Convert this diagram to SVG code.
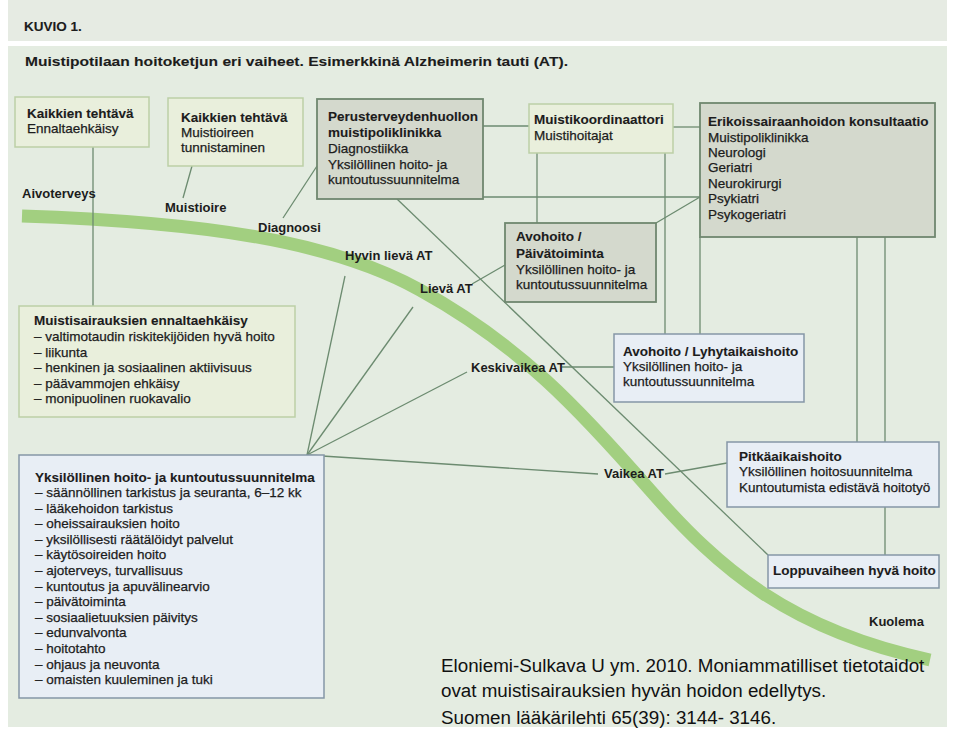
<svg xmlns="http://www.w3.org/2000/svg" width="960" height="732" viewBox="0 0 960 732">
<style>
.t{font-family:"Liberation Sans Narrow","Liberation Sans",Arial,sans-serif;font-size:13.5px;fill:#1c1c1c;stroke:#1c1c1c;stroke-width:0.25}
.b{font-weight:bold;stroke-width:0.1}
.lbl{font-family:"Liberation Sans Narrow","Liberation Sans",Arial,sans-serif;font-size:13px;font-weight:bold;fill:#1c1c1c}
.cap{font-family:"Liberation Sans",Arial,sans-serif;font-size:18.8px;fill:#111}
.g{fill:#e9efdc;stroke:#bccfa6;stroke-width:1.5}
.d{fill:#d4d9cd;stroke:#6f876f;stroke-width:1.8}
.u{fill:#e8eef5;stroke:#8596a6;stroke-width:1.5}
.c{fill:none;stroke:#6c8b70;stroke-width:1.3}
</style>
<rect x="0" y="0" width="960" height="732" fill="#ffffff"/>
<rect x="8" y="0" width="939" height="41" fill="#e6ebe3"/>
<rect x="8" y="46" width="939" height="681" fill="#e4ece1"/>
<text class="t b" x="24" y="31" font-size="14.5">KUVIO 1.</text>
<text class="t b" x="25" y="66" font-size="18" textLength="543" lengthAdjust="spacingAndGlyphs">Muistipotilaan hoitoketjun eri vaiheet. Esimerkkinä Alzheimerin tauti (AT).</text>

<path d="M22,216 C200,222 330,240 420,290 C520,345 580,410 650,490 C720,570 790,630 930,660" fill="none" stroke="#a2cf80" stroke-width="13"/>

<g id="connectors">
<line class="c" x1="93" y1="147" x2="93" y2="306"/>
<line class="c" x1="192" y1="166" x2="183" y2="198"/>
<line class="c" x1="283" y1="218" x2="317" y2="166"/>
<line class="c" x1="397" y1="199" x2="768" y2="555"/>
<line class="c" x1="483" y1="126" x2="529" y2="126"/>
<line class="c" x1="673" y1="127" x2="700" y2="127"/>
<line class="c" x1="483" y1="197" x2="700" y2="197"/>
<line class="c" x1="537" y1="153" x2="537" y2="223"/>
<line class="c" x1="665" y1="153" x2="665" y2="334"/>
<line class="c" x1="700" y1="237" x2="700" y2="334"/>
<line class="c" x1="857" y1="237" x2="857" y2="442"/>
<line class="c" x1="885" y1="237" x2="885" y2="442"/>
<line class="c" x1="885" y1="507" x2="885" y2="555"/>
<line class="c" x1="656" y1="223" x2="700" y2="197"/>
<line class="c" x1="505" y1="265" x2="472" y2="284"/>
<line class="c" x1="562" y1="367" x2="614" y2="367"/>
<line class="c" x1="665" y1="474" x2="727" y2="463"/>
<line class="c" x1="307" y1="455" x2="345" y2="276"/>
<line class="c" x1="307" y1="455" x2="413" y2="307"/>
<line class="c" x1="307" y1="455" x2="467" y2="372"/>
<line class="c" x1="307" y1="455" x2="598" y2="474"/>
</g>

<g id="n1"><rect class="g" x="15" y="97" width="134" height="50"/>
<text class="t b" x="27" y="118">Kaikkien tehtävä</text>
<text class="t" x="27" y="133">Ennaltaehkäisy</text></g>

<g id="n2"><rect class="g" x="168" y="98" width="135" height="68"/>
<text class="t b" x="181" y="122">Kaikkien tehtävä</text>
<text class="t" x="181" y="137">Muistioireen</text>
<text class="t" x="181" y="152">tunnistaminen</text></g>

<g id="n3"><rect class="d" x="317" y="99" width="166" height="100"/>
<text class="t b" x="328" y="121">Perusterveydenhuollon</text>
<text class="t b" x="328" y="137">muistipoliklinikka</text>
<text class="t" x="328" y="153">Diagnostiikka</text>
<text class="t" x="328" y="169">Yksilöllinen hoito- ja</text>
<text class="t" x="328" y="184">kuntoutussuunnitelma</text></g>

<g id="n4"><rect class="g" x="529" y="104" width="144" height="49"/>
<text class="t b" x="534" y="124">Muistikoordinaattori</text>
<text class="t" x="534" y="140">Muistihoitajat</text></g>

<g id="n5"><rect class="d" x="700" y="103" width="235" height="134"/>
<text class="t b" x="708" y="126">Erikoissairaanhoidon konsultaatio</text>
<text class="t" x="708" y="142">Muistipoliklinikka</text>
<text class="t" x="708" y="157">Neurologi</text>
<text class="t" x="708" y="172">Geriatri</text>
<text class="t" x="708" y="188">Neurokirurgi</text>
<text class="t" x="708" y="203">Psykiatri</text>
<text class="t" x="708" y="219">Psykogeriatri</text></g>

<g id="n6"><rect class="d" x="505" y="223" width="151" height="79" stroke="#4b7550" stroke-width="2.2"/>
<text class="t b" x="516" y="241">Avohoito /</text>
<text class="t b" x="516" y="258">Päivätoiminta</text>
<text class="t" x="516" y="274">Yksilöllinen hoito- ja</text>
<text class="t" x="516" y="289">kuntoutussuunnitelma</text></g>

<g id="n7"><rect class="g" x="19" y="306" width="276" height="111"/>
<text class="t b" x="34" y="325">Muistisairauksien ennaltaehkäisy</text>
<text class="t" x="34" y="341">– valtimotaudin riskitekijöiden hyvä hoito</text>
<text class="t" x="34" y="357">– liikunta</text>
<text class="t" x="34" y="372">– henkinen ja sosiaalinen aktiivisuus</text>
<text class="t" x="34" y="388">– päävammojen ehkäisy</text>
<text class="t" x="34" y="403">– monipuolinen ruokavalio</text></g>

<g id="n8"><rect class="u" x="19" y="455" width="305" height="243"/>
<text class="t b" x="35" y="482">Yksilöllinen hoito- ja kuntoutussuunnitelma</text>
<text class="t" x="35" y="497">– säännöllinen tarkistus ja seuranta, 6–12 kk</text>
<text class="t" x="35" y="512.6">– lääkehoidon tarkistus</text>
<text class="t" x="35" y="528.2">– oheissairauksien hoito</text>
<text class="t" x="35" y="543.8">– yksilöllisesti räätälöidyt palvelut</text>
<text class="t" x="35" y="559.4">– käytösoireiden hoito</text>
<text class="t" x="35" y="575">– ajoterveys, turvallisuus</text>
<text class="t" x="35" y="590.6">– kuntoutus ja apuvälinearvio</text>
<text class="t" x="35" y="606.2">– päivätoiminta</text>
<text class="t" x="35" y="621.8">– sosiaalietuuksien päivitys</text>
<text class="t" x="35" y="637.4">– edunvalvonta</text>
<text class="t" x="35" y="653">– hoitotahto</text>
<text class="t" x="35" y="668.6">– ohjaus ja neuvonta</text>
<text class="t" x="35" y="684.2">– omaisten kuuleminen ja tuki</text></g>

<g id="n9"><rect class="u" x="614" y="334" width="190" height="68"/>
<text class="t b" x="623" y="356">Avohoito / Lyhytaikaishoito</text>
<text class="t" x="623" y="371">Yksilöllinen hoito- ja</text>
<text class="t" x="623" y="386">kuntoutussuunnitelma</text></g>

<g id="n10"><rect class="u" x="727" y="442" width="212" height="65"/>
<text class="t b" x="739" y="461">Pitkäaikaishoito</text>
<text class="t" x="739" y="476">Yksilöllinen hoitosuunnitelma</text>
<text class="t" x="739" y="492">Kuntoutumista edistävä hoitotyö</text></g>

<g id="n11"><rect class="u" x="768" y="555" width="171" height="33"/>
<text class="t b" x="773" y="575">Loppuvaiheen hyvä hoito</text></g>

<g id="labels">
<text class="lbl" x="22" y="198">Aivoterveys</text>
<text class="lbl" x="165" y="212">Muistioire</text>
<text class="lbl" x="258" y="232">Diagnoosi</text>
<text class="lbl" x="345" y="260">Hyvin lievä AT</text>
<text class="lbl" x="420" y="293">Lievä AT</text>
<text class="lbl" x="471" y="372">Keskivaikea AT</text>
<text class="lbl" x="604" y="478">Vaikea AT</text>
<text class="lbl" x="869" y="626" font-size="12">Kuolema</text>
</g>

<g id="caption">
<text class="cap" x="441" y="672">Eloniemi-Sulkava U ym. 2010. Moniammatilliset tietotaidot</text>
<text class="cap" x="441" y="697">ovat muistisairauksien hyvän hoidon edellytys.</text>
<text class="cap" x="441" y="724">Suomen lääkärilehti 65(39): 3144- 3146.</text>
</g>
</svg>
